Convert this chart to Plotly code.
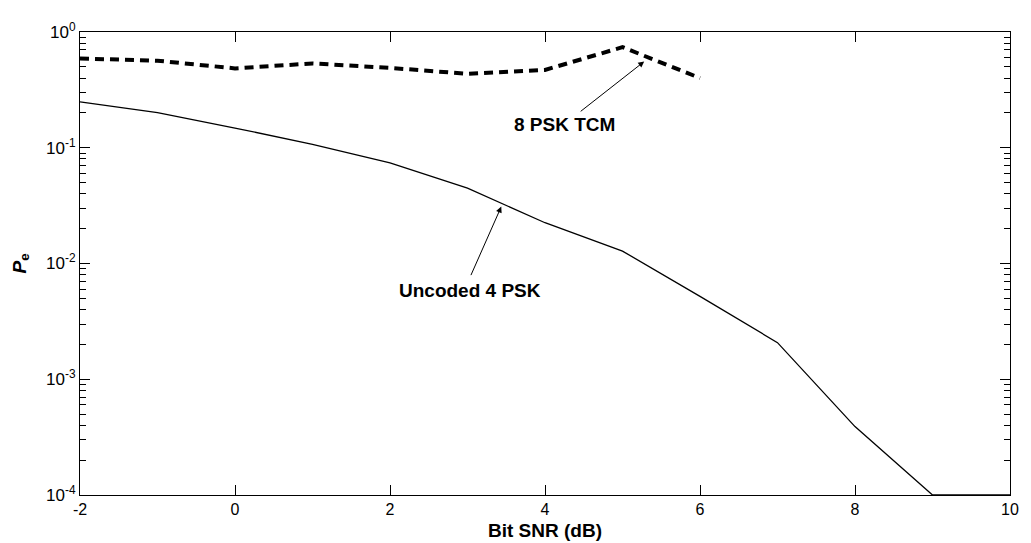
import math
import plotly.graph_objects as go

snr = [-2, -1, 0, 1, 2, 3, 4, 5, 6, 7, 8, 9, 10]
pe_uncoded = [0.249, 0.201, 0.148, 0.107, 0.074, 0.0447, 0.0225, 0.0128, 0.0052, 0.00207, 0.00039, 0.0001, 0.0001]
snr_tcm = [-2, -1, 0, 1, 2, 3, 4, 5, 6]
pe_tcm = [0.59, 0.565, 0.485, 0.535, 0.49, 0.435, 0.47, 0.74, 0.40]

xticks = [-2, 0, 2, 4, 6, 8, 10]
yexp = [-4, -3, -2, -1, 0]
minor_mult = [2, 3, 4, 5, 6, 7, 8, 9]

FONT = "Arial, Liberation Sans, Helvetica, sans-serif"

fig = go.Figure()
fig.add_trace(go.Scatter(x=snr, y=pe_uncoded, mode="lines",
                         line=dict(color="black", width=1.3), showlegend=False))
fig.add_trace(go.Scatter(x=snr_tcm, y=pe_tcm, mode="lines", yaxis="y2",
                         line=dict(color="black", width=4, dash="9px,6px"), showlegend=False))

minor_vals = [m * 10 ** e for e in yexp[:-1] for m in minor_mult]

fig.update_layout(
    xaxis=dict(range=[-2, 10], tickvals=xticks, ticktext=[str(v) for v in xticks],
               ticks="inside", ticklen=10, tickwidth=1, tickcolor="black",
               showline=True, linecolor="black", linewidth=1, mirror="ticks",
               showgrid=False, zeroline=False,
               tickfont=dict(family=FONT, size=16, color="black")),
    yaxis=dict(type="log", range=[-4, 0], tickmode="array",
               tickvals=[10 ** e for e in yexp],
               ticktext=[f"10<sup>{e}</sup>" for e in yexp],
               ticks="inside", ticklen=10, tickwidth=1, tickcolor="black",
               showline=True, linecolor="black", linewidth=1, mirror="ticks",
               showgrid=False, zeroline=False,
               tickfont=dict(family=FONT, size=17, color="black")),
    yaxis2=dict(type="log", range=[-4, 0], overlaying="y", anchor="x", side="left",
                tickmode="array", tickvals=minor_vals, showticklabels=False,
                ticks="inside", ticklen=6, tickwidth=1, tickcolor="black",
                showline=True, linecolor="black", linewidth=1, mirror="ticks",
                showgrid=False, zeroline=False),
)

# axis titles
fig.add_annotation(xref="paper", yref="paper", x=0.5, y=0, yshift=-35,
                   xanchor="center", yanchor="middle", showarrow=False,
                   text="<b>Bit SNR (dB)</b>", font=dict(family=FONT, size=19, color="black"))
fig.add_annotation(xref="paper", yref="paper", x=0, y=0.5, xshift=-60,
                   xanchor="center", yanchor="middle", showarrow=False, textangle=-90,
                   text="<b><i>P</i><sub>e</sub></b>", font=dict(family=FONT, size=19, color="black"))

L = math.log10
# arrows (annotation y on log axis is given in log10 units)
fig.add_annotation(x=5.28, y=L(0.556), ax=-65, ay=51, text="", showarrow=True,
                   arrowhead=2, arrowsize=1.2, arrowwidth=1, arrowcolor="black")
fig.add_annotation(x=4.256, y=L(0.159), text="<b>8 PSK TCM</b>", showarrow=False,
                   font=dict(family=FONT, size=19, color="black"))
fig.add_annotation(x=3.436, y=L(0.031), ax=-31, ay=70, text="", showarrow=True,
                   arrowhead=2, arrowsize=1.2, arrowwidth=1, arrowcolor="black")
fig.add_annotation(x=3.038, y=L(0.00584), text="<b>Uncoded 4 PSK</b>", showarrow=False,
                   font=dict(family=FONT, size=19, color="black"))

# page body has an 8px margin, so the figure is 8px smaller on each used side
fig.update_layout(width=1023, height=535, plot_bgcolor="white", paper_bgcolor="white",
                  margin=dict(l=72, r=15, t=16, b=48), showlegend=False)
fig.write_html("out.html")
